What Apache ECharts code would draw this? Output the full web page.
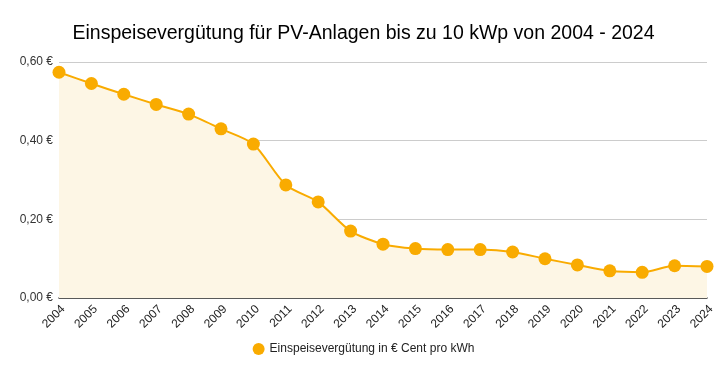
<!DOCTYPE html>
<html><head><meta charset="utf-8">
<script src="https://cdn.jsdelivr.net/npm/echarts@6/dist/echarts.min.js"></script>
<style>html,body{margin:0;padding:0;background:#fff}#c{width:727px;height:374px}</style>
</head><body><div id="c"></div>
<script>
const title = "Einspeisevergütung für PV-Anlagen bis zu 10 kWp von 2004 - 2024";
const seriesName = "Einspeisevergütung in € Cent pro kWh";
const years = ["2004","2005","2006","2007","2008","2009","2010","2011","2012","2013","2014","2015","2016","2017","2018","2019","2020","2021","2022","2023","2024"];
const values = [0.574,0.5453,0.518,0.4921,0.4675,0.4301,0.3914,0.2874,0.2443,0.1702,0.1368,0.1256,0.1231,0.1230,0.1170,0.0998,0.0840,0.0690,0.0653,0.0820,0.0803];
const yTicks = [0, 0.2, 0.4, 0.6];

const chart = echarts.init(document.getElementById('c'), null, {renderer:'canvas'});
chart.setOption({
  animation:false,
  textStyle:{fontFamily:'Liberation Sans, Arial, sans-serif'},
  title:{text:title,left:'center',top:19,textStyle:{fontSize:19.5,fontWeight:'normal',color:'#000',fontFamily:'Liberation Sans, Arial, sans-serif'}},
  legend:{bottom:14,left:'center',icon:'circle',itemWidth:12,itemHeight:12,itemGap:8,
    textStyle:{fontSize:12,color:'#222'},data:[seriesName]},
  grid:{left:59,right:20,top:62,bottom:76},
  xAxis:{type:'category',data:years,boundaryGap:false,
    axisLine:{lineStyle:{color:'#333',width:1.5}},axisTick:{show:false},
    axisLabel:{rotate:45,fontSize:12,color:'#222',margin:5,interval:0,verticalAlign:'top'},
    splitLine:{show:false}},
  yAxis:{type:'value',min:0,max:0.6,interval:0.2,
    axisLine:{show:false},axisTick:{show:false},
    axisLabel:{fontSize:12,color:'#333',margin:6,formatter:v=>v.toFixed(2).replace('.',',')+' €'},
    splitLine:{lineStyle:{color:'#ccc'}}},
  series:[{name:seriesName,type:'line',data:values,smooth:0.25,
    symbol:'circle',symbolSize:13,showSymbol:true,
    lineStyle:{color:'#F9AB00',width:2},
    itemStyle:{color:'#F9AB00'},
    areaStyle:{color:'#FDF6E5',opacity:1}}]
});
</script></body></html>
